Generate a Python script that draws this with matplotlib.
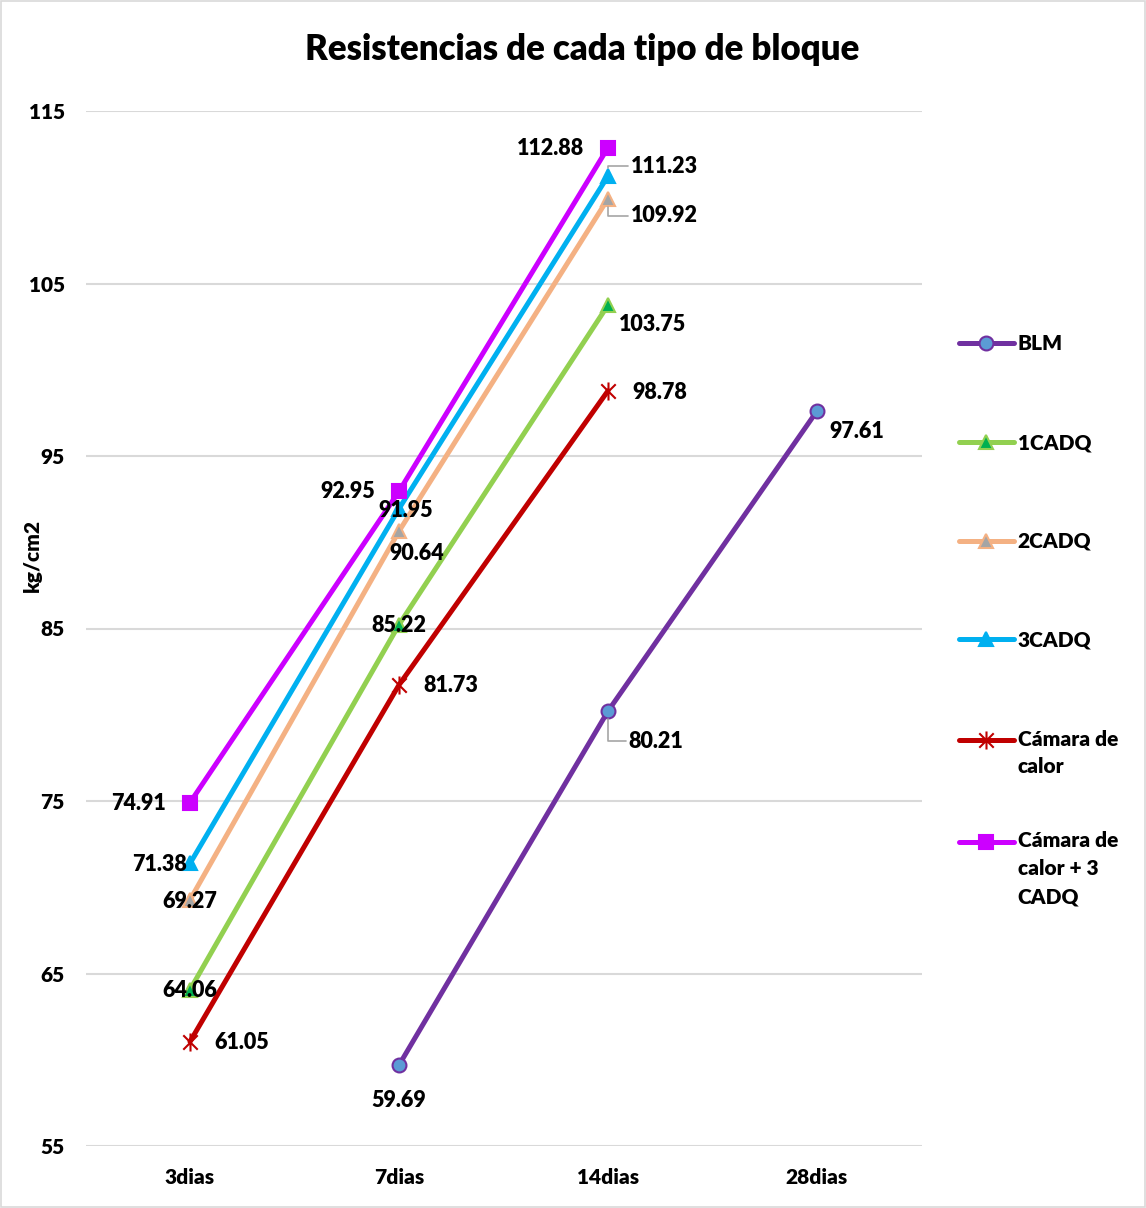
import matplotlib
matplotlib.use("Agg")
import matplotlib.pyplot as plt
import numpy as np
from matplotlib.path import Path
from matplotlib.patches import Rectangle
from matplotlib.legend_handler import HandlerLine2D

categories = ["3dias", "7dias", "14dias", "28dias"]
series_names = ["BLM", "1CADQ", "2CADQ", "3CADQ", "Cámara de\ncalor", "Cámara de\ncalor + 3\nCADQ"]
blm = [np.nan, 59.69, 80.21, 97.61]
cadq1 = [64.06, 85.22, 103.75, np.nan]
cadq2 = [69.27, 90.64, 109.92, np.nan]
cadq3 = [71.38, 91.95, 111.23, np.nan]
camara = [61.05, 81.73, 98.78, np.nan]
camara3 = [74.91, 92.95, 112.88, np.nan]
yticks = [55, 65, 75, 85, 95, 105, 115]

W = 'heavy'
plt.rcParams['font.family'] = ['Lato', 'DejaVu Sans']
plt.rcParams['font.weight'] = W

fig = plt.figure(figsize=(11.46, 12.08), dpi=100)
ax = fig.add_axes([85.5/1146, 1-1146/1208, 836/1146, (1146-111)/1208])
fig.patches.append(Rectangle((0.0005, 0.0005), 0.999, 0.999, transform=fig.transFigure,
                             fill=False, edgecolor='#D9D9D9', linewidth=1.2))

x = np.arange(len(categories))

star = Path([(-1, -1), (1, 1), (-1, 1), (1, -1), (0, -1.25), (0, 1.25)],
            [Path.MOVETO, Path.LINETO, Path.MOVETO, Path.LINETO, Path.MOVETO, Path.LINETO])

styles = [
    (blm, dict(color='#7030A0', marker='o', mfc='#5B9BD5', mec='#7030A0', ms=10, mew=1.5)),
    (cadq1, dict(color='#92D050', marker='^', mfc='#00B050', mec='#92D050', ms=10, mew=1.5)),
    (cadq2, dict(color='#F4B183', marker='^', mfc='#A5A5A5', mec='#F4B183', ms=10, mew=1.5)),
    (cadq3, dict(color='#00B0F0', marker='^', mfc='#00B0F0', mec='#00B0F0', ms=10, mew=1.5)),
    (camara, dict(color='#C00000', marker=star, mfc='none', mec='#C00000', ms=13, mew=1.5)),
    (camara3, dict(color='#CC00FF', marker='s', mfc='#CC00FF', mec='#CC00FF', ms=10, mew=1.5)),
]
lines = []
for (vals, st), name in zip(styles, series_names):
    ln, = ax.plot(x, vals, lw=3.6, label=name, solid_capstyle='round', **st)
    lines.append(ln)

# label offsets in pixels (dx, dy) relative to point
label_offsets = [
    [None, (0, -35), (48, -30), (40, -21)],
    [(0, -1), (0, -1), (45, -19), None],
    [(0, -2), (18, -22), (56, -17), None],
    [(-30, -1), (7, -2), (56, 10), None],
    [(52, -1), (52, -1), (52, -2), None],
    [(-51, -1), (-51, 0), (-57, -1), None],
]
leaders = {(0, 2), (2, 2), (3, 2)}
for si, ((vals, st), offs) in enumerate(zip(styles, label_offsets)):
    for ci, v in enumerate(vals):
        if np.isnan(v) or offs[ci] is None:
            continue
        dx, dy = offs[ci]
        kw = {}
        if (si, ci) in leaders:
            kw['arrowprops'] = dict(arrowstyle='-', color='#A5A5A5', lw=1.2,
                                    shrinkA=0, shrinkB=6,
                                    connectionstyle='angle,angleA=0,angleB=90,rad=0')
        ax.annotate(f"{v:.2f}", (x[ci], v), xytext=(dx, dy), textcoords='offset pixels',
                    ha='center', va='center', fontsize=15.5, fontweight=W,
                    color='black', **kw)

ax.set_xlim(-0.5, 3.5)
ax.set_ylim(55, 115)
ax.set_yticks(yticks)
ax.set_xticks(x)
ax.set_xticklabels(categories)
ax.grid(axis='y', color='#D9D9D9', lw=1.5)
ax.set_axisbelow(True)
for s in ['top', 'right', 'left', 'bottom']:
    ax.spines[s].set_visible(False)
ax.tick_params(length=0, labelsize=15)
for lab in ax.get_xticklabels() + ax.get_yticklabels():
    lab.set_fontweight(W)
ax.tick_params(axis='y', pad=15)
ax.tick_params(axis='x', pad=16)
ax.set_ylabel("kg/cm2", fontsize=15, fontweight=W)
ax.yaxis.set_label_coords((42 - 85.5)/836, (1146-555)/1035)

fig.text(582/1146, 1-50/1208, "Resistencias de cada tipo de bloque", ha='center', va='center',
         fontsize=25, fontweight=W)


class ShiftedHandler(HandlerLine2D):
    """Align the legend line with the first line of a multi-line label."""
    def __init__(self, dy_pt, **kw):
        super().__init__(**kw)
        self.dy_pt = dy_pt

    def create_artists(self, legend, orig_handle, xdescent, ydescent, width, height, fontsize, trans):
        arts = super().create_artists(legend, orig_handle, xdescent, ydescent, width, height, fontsize, trans)
        for a in arts:
            a.set_ydata(np.asarray(a.get_ydata()) + self.dy_pt)
        return arts


LS = 1.56
line_gap_pt = 28 * 72 / 100
handler_map = {lines[4]: ShiftedHandler(line_gap_pt / 2),
               lines[5]: ShiftedHandler(line_gap_pt)}

leg_kw = dict(frameon=False, fontsize=15, handlelength=2.6, handletextpad=0.2,
              borderaxespad=0, bbox_transform=fig.transFigure, loc='upper left',
              handler_map=handler_map)

leg1 = ax.legend(lines[:5], series_names[:5], bbox_to_anchor=(951/1146, 1-326/1208),
                 labelspacing=3.83, **leg_kw)
for t in leg1.get_texts():
    t.set_fontweight(W)
    t.set_linespacing(LS)
ax.add_artist(leg1)

leg2 = ax.legend(lines[5:], series_names[5:], bbox_to_anchor=(951/1146, 1-823/1208), **leg_kw)
for t in leg2.get_texts():
    t.set_fontweight(W)
    t.set_linespacing(LS)

fig.savefig("out.png", dpi=100)
